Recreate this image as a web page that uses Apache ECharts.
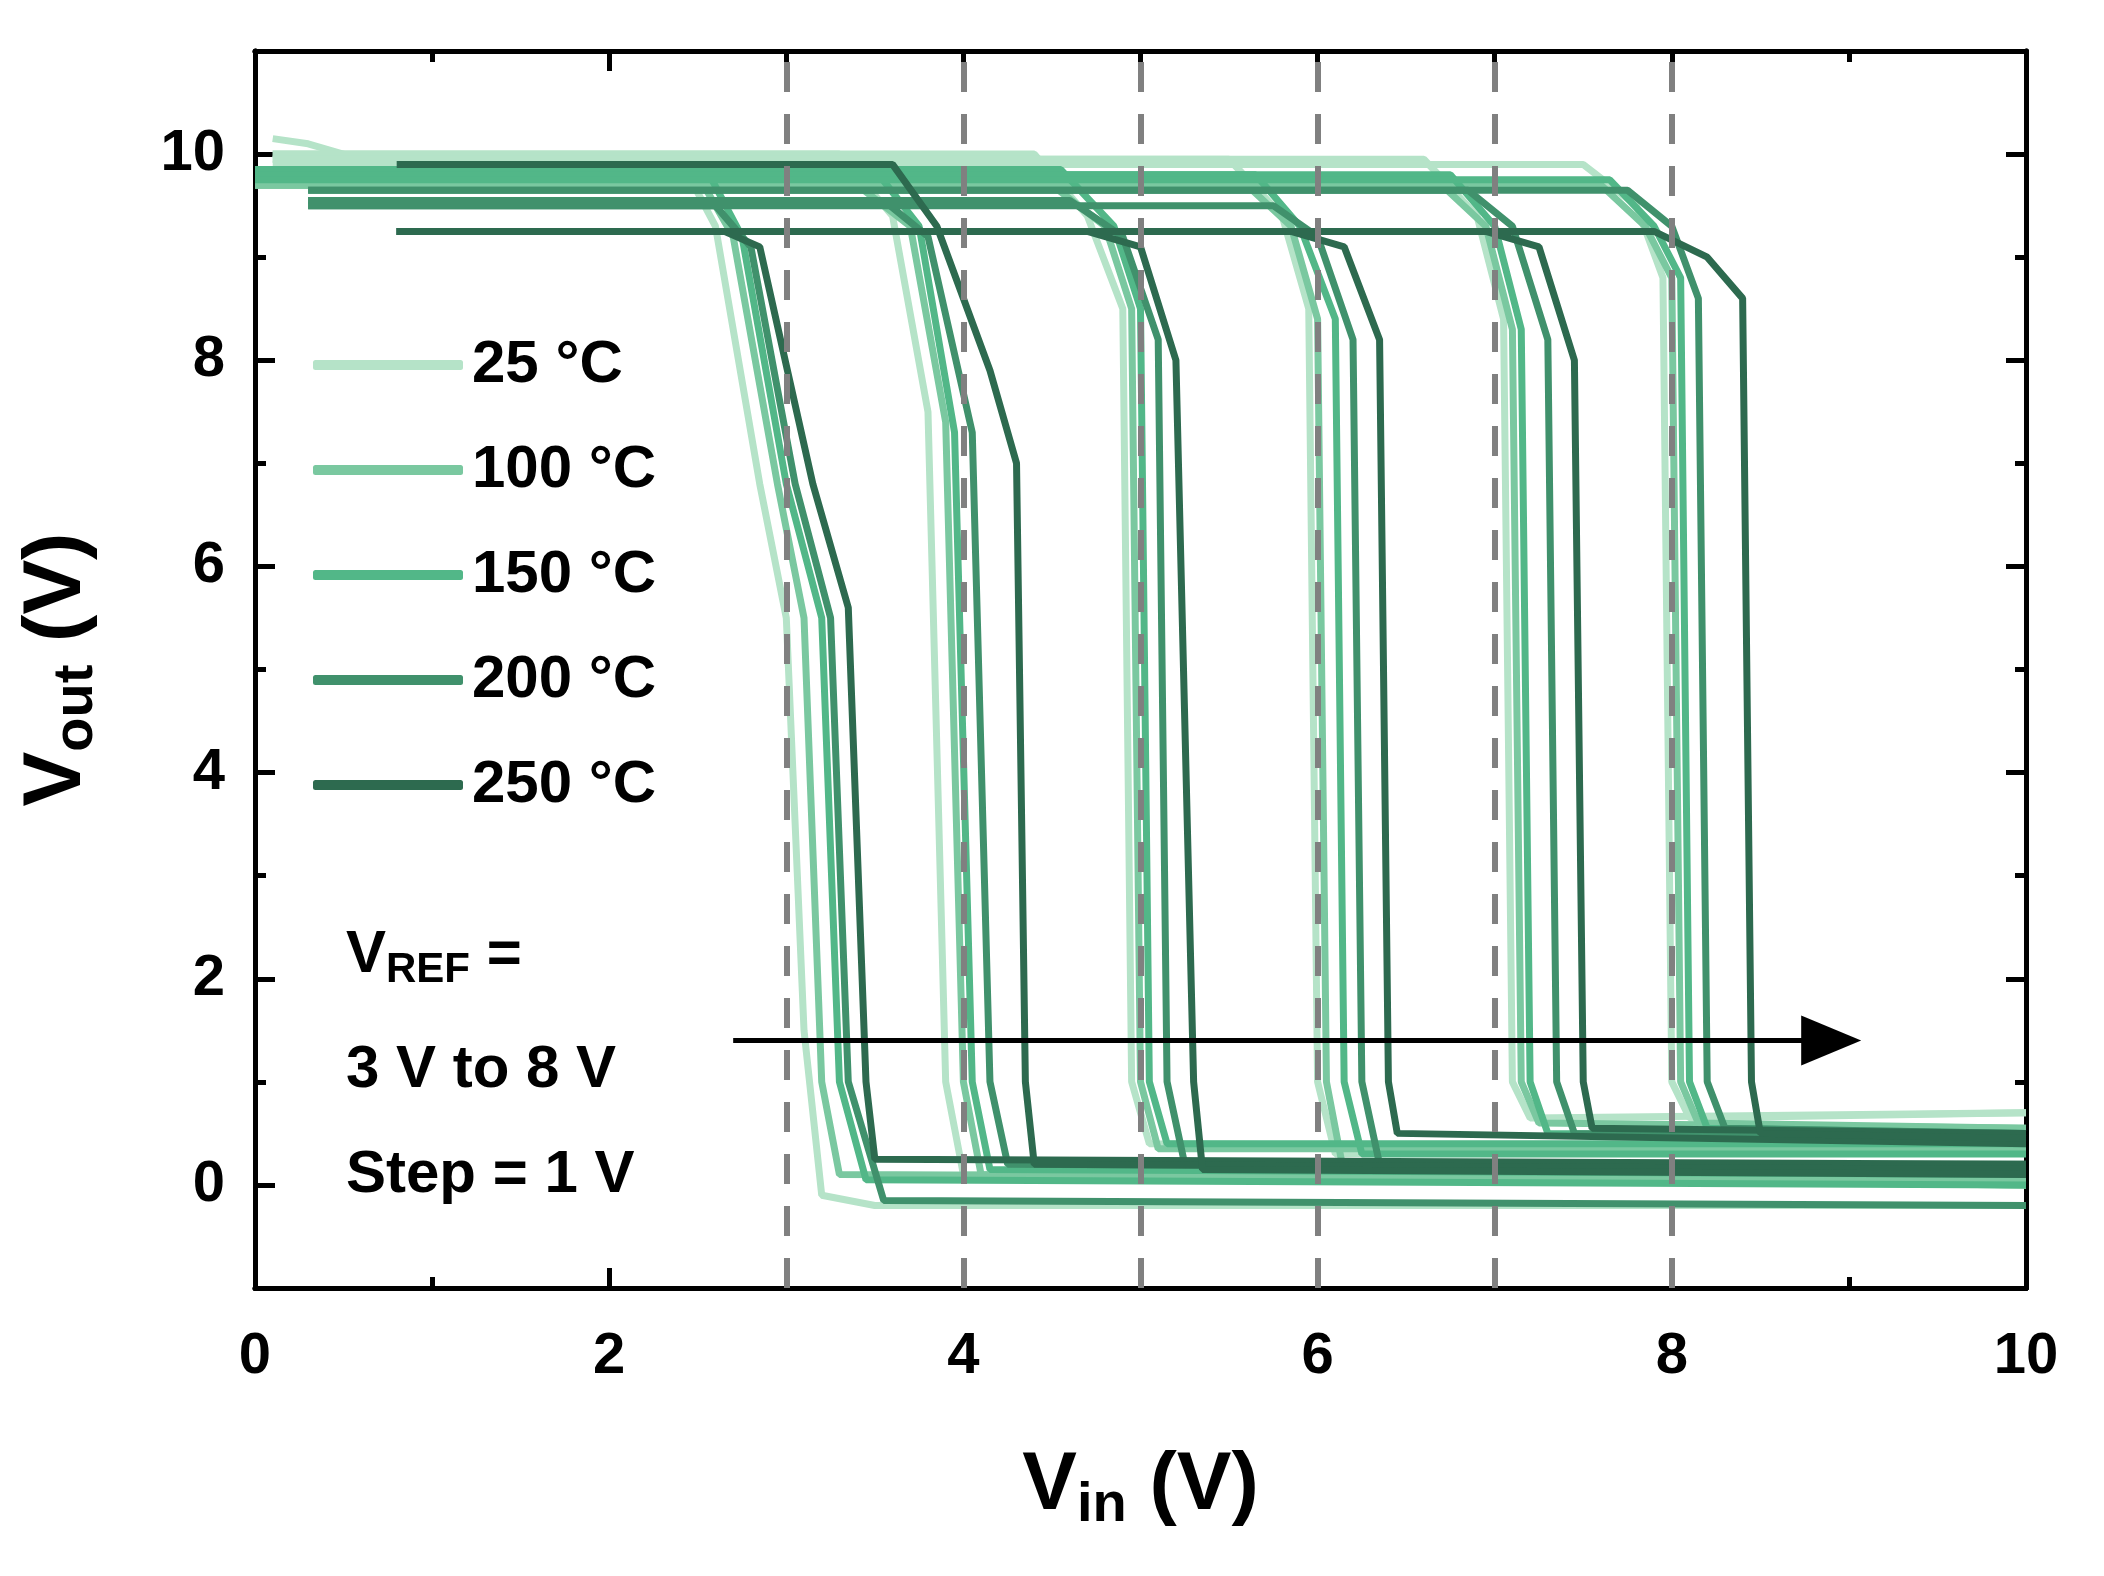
<!DOCTYPE html>
<html>
<head>
<meta charset="utf-8">
<script src="https://cdn.jsdelivr.net/npm/echarts@6/dist/echarts.min.js"></script>
<style>html,body{margin:0;padding:0;background:#fff}#chart{width:2104px;height:1576px}</style>
</head>
<body>
<div id="chart"></div>
<script>
// temperatures and colours
const temps = ['25 °C', '100 °C', '150 °C', '200 °C', '250 °C'];
const colors = ['#b5e3c8', '#7ac8a0', '#52b788', '#40916c', '#2d6a4f'];
const vrefLines = [3, 4, 5, 6, 7, 8];
const yMajor = [0, 2, 4, 6, 8, 10];
const yMinor = [-1, 1, 3, 5, 7, 9];
const xMajor = [0, 2, 4, 6, 8, 10];
const xMinor = [1, 3, 5, 7, 9];

// transfer curves, one list per VREF (3..8 V)
const curves25 = [
  [[0.1, 10.15], [0.3, 10.1], [0.6, 9.95], [2.4, 9.95], [2.6, 9.3], [2.85, 6.8], [3.0, 5.5], [3.1, 1.5], [3.2, -0.1], [3.5, -0.2], [10, -0.2]],
  [[0.1, 10.0], [3.3, 10.0], [3.6, 9.4], [3.8, 7.5], [3.9, 1.0], [4.0, 0.1], [10, 0.0]],
  [[0.1, 10.0], [4.4, 10.0], [4.7, 9.4], [4.9, 8.5], [4.95, 1.0], [5.05, 0.4], [10, 0.35]],
  [[0.1, 9.95], [5.5, 9.95], [5.8, 9.4], [5.95, 8.5], [6.0, 1.0], [6.1, 0.3], [10, 0.4]],
  [[0.1, 9.95], [6.6, 9.95], [6.9, 9.4], [7.05, 8.4], [7.1, 1.0], [7.2, 0.65], [10, 0.7]],
  [[0.1, 9.9], [7.5, 9.9], [7.8, 9.5], [7.95, 8.8], [8.0, 1.0], [8.1, 0.65], [10, 0.7]]
];
const curves100 = [
  [[0.0, 9.8], [2.5, 9.8], [2.7, 9.2], [2.95, 6.8], [3.1, 5.5], [3.2, 1.0], [3.3, 0.1], [10, 0.05]],
  [[0.0, 9.7], [3.4, 9.7], [3.7, 9.3], [3.9, 7.4], [4.0, 1.0], [4.1, 0.1], [10, 0.0]],
  [[0.0, 9.7], [4.5, 9.7], [4.8, 9.3], [4.95, 8.5], [5.0, 1.0], [5.1, 0.35], [10, 0.35]],
  [[0.0, 9.7], [5.6, 9.7], [5.85, 9.3], [6.0, 8.4], [6.05, 1.0], [6.15, 0.1], [10, 0.0]],
  [[0.0, 9.7], [6.7, 9.7], [6.95, 9.3], [7.1, 8.3], [7.15, 1.0], [7.25, 0.6], [10, 0.55]],
  [[0.0, 9.7], [7.6, 9.7], [7.85, 9.3], [8.0, 8.8], [8.05, 1.0], [8.15, 0.6], [10, 0.55]]
];
const curves150 = [
  [[0.0, 9.85], [2.55, 9.85], [2.75, 9.2], [3.0, 6.8], [3.2, 5.5], [3.3, 1.0], [3.45, 0.05], [10, 0.0]],
  [[0.0, 9.85], [3.5, 9.85], [3.75, 9.3], [3.95, 7.3], [4.05, 1.0], [4.15, 0.15], [10, 0.1]],
  [[0.0, 9.85], [4.55, 9.85], [4.85, 9.3], [5.0, 8.5], [5.05, 1.0], [5.15, 0.4], [10, 0.4]],
  [[0.0, 9.8], [5.65, 9.8], [5.9, 9.3], [6.1, 8.4], [6.15, 1.0], [6.25, 0.3], [10, 0.3]],
  [[0.0, 9.8], [6.75, 9.8], [7.0, 9.3], [7.15, 8.3], [7.2, 1.0], [7.3, 0.5], [10, 0.45]],
  [[0.0, 9.75], [7.65, 9.75], [7.9, 9.3], [8.05, 8.8], [8.1, 1.0], [8.2, 0.55], [10, 0.5]]
];
const curves200 = [
  [[0.3, 9.5], [2.6, 9.5], [2.8, 9.1], [3.05, 6.8], [3.25, 5.5], [3.35, 1.0], [3.55, -0.15], [10, -0.2]],
  [[0.3, 9.55], [3.55, 9.55], [3.8, 9.2], [4.05, 7.3], [4.15, 1.0], [4.25, 0.2], [10, 0.15]],
  [[0.3, 9.55], [4.6, 9.55], [4.9, 9.2], [5.1, 8.2], [5.15, 1.0], [5.25, 0.2], [10, 0.15]],
  [[0.3, 9.5], [5.75, 9.5], [6.0, 9.2], [6.2, 8.2], [6.25, 1.0], [6.35, 0.2], [10, 0.2]],
  [[0.3, 9.65], [6.85, 9.65], [7.1, 9.3], [7.3, 8.2], [7.35, 1.0], [7.45, 0.5], [10, 0.45]],
  [[0.3, 9.65], [7.75, 9.65], [8.0, 9.3], [8.15, 8.6], [8.2, 1.0], [8.3, 0.55], [10, 0.5]]
];
const curves250 = [
  [[0.8, 9.25], [2.65, 9.25], [2.85, 9.1], [3.15, 6.8], [3.35, 5.6], [3.45, 1.0], [3.5, 0.25], [10, 0.2]],
  [[0.8, 9.9], [3.6, 9.9], [3.85, 9.3], [4.15, 7.9], [4.3, 7.0], [4.35, 1.0], [4.4, 0.2], [10, 0.15]],
  [[0.8, 9.25], [4.7, 9.25], [5.0, 9.1], [5.2, 8.0], [5.3, 1.0], [5.35, 0.15], [10, 0.1]],
  [[0.8, 9.25], [5.85, 9.25], [6.15, 9.1], [6.35, 8.2], [6.4, 1.0], [6.45, 0.5], [10, 0.4]],
  [[0.8, 9.25], [6.95, 9.25], [7.25, 9.1], [7.45, 8.0], [7.5, 1.0], [7.55, 0.55], [10, 0.5]],
  [[0.8, 9.25], [7.9, 9.25], [8.2, 9.0], [8.4, 8.6], [8.45, 1.0], [8.5, 0.5], [10, 0.45]]
];
const allCurves = [curves25, curves100, curves150, curves200, curves250];

const font = 'Liberation Sans, Arial, sans-serif';
const chart = echarts.init(document.getElementById('chart'));

const series = [];
allCurves.forEach((set, i) => {
  set.forEach(pts => {
    series.push({
      name: temps[i], type: 'line', data: pts, showSymbol: false, symbol: 'none',
      lineStyle: { color: colors[i], width: 7 }, itemStyle: { color: colors[i] }, z: 3
    });
  });
});
// dashed VREF guides and arrow
series.push({
  type: 'line', data: [], z: 1,
  markLine: {
    silent: true, symbol: 'none', label: { show: false },
    lineStyle: { color: '#808080', width: 6, type: [30, 22] },
    data: vrefLines.map(v => ({ xAxis: v }))
  }
});
series.push({
  type: 'line', data: [], z: 5,
  markLine: {
    silent: true, symbol: ['none', 'triangle'], symbolSize: [50, 60], label: { show: false },
    lineStyle: { color: '#000', width: 5, type: 'solid' },
    data: [[{ coord: [2.7, 1.4] }, { coord: [8.9, 1.4] }]]
  }
});

const boldText = { fontFamily: font, fontWeight: 'bold', fontSize: 58, color: '#000' };

// one axis per tick set (major/minor) and side
function makeAxis(kind, position, values, len, withLabels) {
  const isX = kind === 'x';
  return {
    type: 'value', min: isX ? 0 : -1, max: isX ? 10 : 11, position: position,
    axisLine: { show: true, onZero: false, lineStyle: { color: '#000', width: 5 } },
    axisTick: { show: true, inside: true, length: len, customValues: values, lineStyle: { color: '#000', width: 5 } },
    axisLabel: withLabels ? Object.assign({ customValues: values, margin: isX ? 40 : 30 }, boldText) : { show: false },
    splitLine: { show: false }
  };
}

const xMain = makeAxis('x', 'bottom', xMajor, 20, true);
Object.assign(xMain, {
  name: '{b|V}{s|in}{b| (V)}', nameLocation: 'middle', nameGap: 150,
  nameTextStyle: { rich: {
    b: { fontFamily: font, fontWeight: 'bold', fontSize: 82, color: '#000' },
    s: { fontFamily: font, fontWeight: 'bold', fontSize: 56, color: '#000', padding: [40, 0, 0, 0] }
  } }
});
const yMain = makeAxis('y', 'left', yMajor, 20, true);
Object.assign(yMain, {
  name: '{b|V}{s|out}{b| (V)}', nameLocation: 'middle', nameGap: 150, nameRotate: 90,
  nameTextStyle: { rich: {
    b: { fontFamily: font, fontWeight: 'bold', fontSize: 82, color: '#000' },
    s: { fontFamily: font, fontWeight: 'bold', fontSize: 56, color: '#000', padding: [40, 0, 0, 0] }
  } }
});

chart.setOption({
  backgroundColor: '#fff',
  animation: false,
  grid: { left: 255, right: 78, top: 51, bottom: 288 },
  legend: {
    data: temps, orient: 'vertical', left: 308, top: 330,
    itemWidth: 150, itemHeight: 10, itemGap: 45,
    icon: 'roundRect',
    textStyle: { fontFamily: font, fontWeight: 'bold', fontSize: 60, color: '#000', padding: [0, 0, 0, 4] }
  },
  xAxis: [
    xMain,
    makeAxis('x', 'bottom', xMinor, 11, false),
    makeAxis('x', 'top', xMajor, 20, false),
    makeAxis('x', 'top', xMinor, 11, false)
  ],
  yAxis: [
    yMain,
    makeAxis('y', 'left', yMinor, 11, false),
    makeAxis('y', 'right', yMajor, 20, false),
    makeAxis('y', 'right', yMinor, 11, false)
  ],
  graphic: [
    { type: 'text', left: 346, top: 925, style: { text: '{b|V}{s|REF}{b| =}', rich: {
      b: { fontFamily: font, fontWeight: 'bold', fontSize: 60, fill: '#000' },
      s: { fontFamily: font, fontWeight: 'bold', fontSize: 42, fill: '#000', padding: [30, 0, 0, 0] } } } },
    { type: 'text', left: 346, top: 1040, style: { text: '3 V to 8 V', fontFamily: font, fontWeight: 'bold', fontSize: 60, fill: '#000' } },
    { type: 'text', left: 346, top: 1145, style: { text: 'Step = 1 V', fontFamily: font, fontWeight: 'bold', fontSize: 60, fill: '#000' } }
  ],
  series: series
});
</script>
</body>
</html>
